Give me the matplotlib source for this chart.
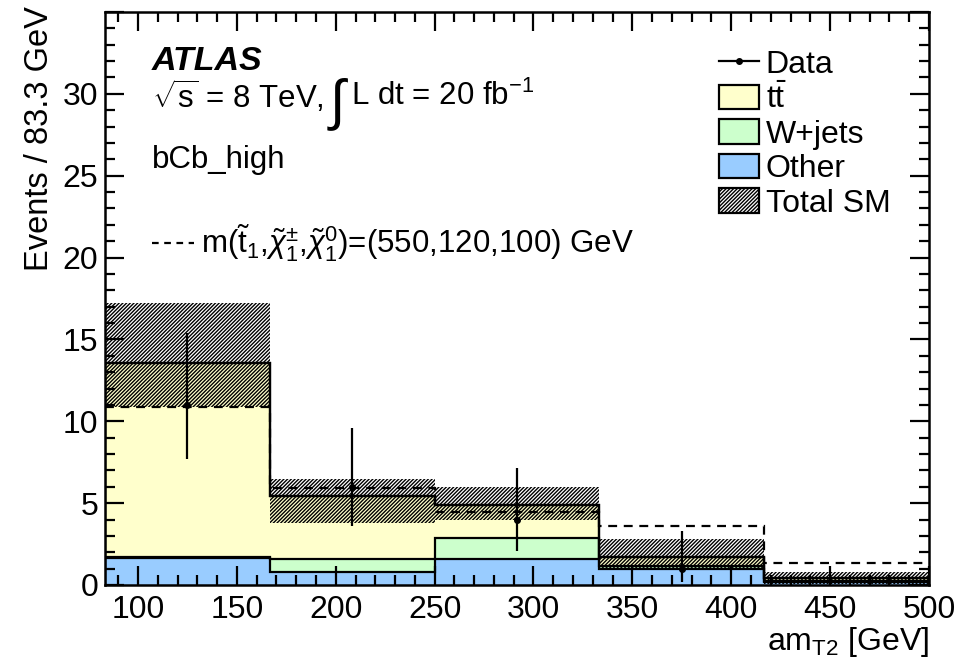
import numpy as np
import matplotlib
matplotlib.use("Agg")
import matplotlib.pyplot as plt
from matplotlib.patches import Patch
from matplotlib.lines import Line2D
from matplotlib.ticker import MultipleLocator, FixedLocator

plt.rcParams['font.family'] = ['Liberation Sans', 'DejaVu Sans']
plt.rcParams['mathtext.fontset'] = 'custom'
plt.rcParams['mathtext.rm'] = 'Liberation Sans'
plt.rcParams['mathtext.it'] = 'Liberation Sans:italic'
plt.rcParams['mathtext.bf'] = 'Liberation Sans:bold'
plt.rcParams['hatch.linewidth'] = 1.0

# ---- data ----
bin_edges = [83.33, 166.67, 250.0, 333.33, 416.67, 500.0]
other = [1.65, 0.80, 1.58, 1.00, 0.20]
wjets = [0.05, 0.80, 1.32, 0.15, 0.05]
ttbar = [11.85, 3.85, 2.00, 0.57, 0.20]
band_low = [10.9, 3.8, 3.96, 1.00, 0.05]
band_high = [17.2, 6.5, 6.0, 2.80, 0.80]
signal = [10.9, 5.9, 4.47, 3.6, 1.33]
data_x = [125.0, 208.33, 291.67, 375.0]
data_y = [11, 6, 4, 1]
data_err_lo = [3.30, 2.38, 1.91, 0.83]
data_err_hi = [4.42, 3.58, 3.16, 2.30]
y_ticks = [0, 5, 10, 15, 20, 25, 30]

col_tt = '#FFFFCC'
col_w = '#CCFFCC'
col_other = '#99CCFF'
HATCH = '/////////'
FS = 22.5

fig = plt.figure(figsize=(9.57, 6.57), dpi=100)
ax = fig.add_axes([105/957, 1-585/657, 824/957, 573/657])

edges = np.array(bin_edges)
o = np.array(other)
w = np.array(wjets)
t = np.array(ttbar)
lev1 = o
lev2 = o + w
lev3 = o + w + t

ax.stairs(lev1, edges, baseline=0, fill=True, facecolor=col_other, linewidth=0)
ax.stairs(lev2, edges, baseline=lev1, fill=True, facecolor=col_w, linewidth=0)
ax.stairs(lev3, edges, baseline=lev2, fill=True, facecolor=col_tt, linewidth=0)
for lev in (lev1, lev2, lev3):
    ax.stairs(lev, edges, baseline=None, color='black', linewidth=1.6)
ax.stairs(lev3, edges, baseline=0, fill=False, color='black', linewidth=1.6)

# uncertainty band
ax.stairs(np.array(band_high), edges, baseline=np.array(band_low), fill=True,
          facecolor='none', edgecolor='black', hatch=HATCH, linewidth=0)

# signal
ax.stairs(np.array(signal), edges, baseline=None, color='black',
          linestyle=(0, (4, 3)), linewidth=1.6)

# data
ax.errorbar(data_x, data_y, yerr=[data_err_lo, data_err_hi], fmt='o', color='black',
            markersize=4, elinewidth=1.6, capsize=0)

ax.set_xlim(83.33, 500)
ax.set_ylim(0, 35)
ax.xaxis.set_major_locator(MultipleLocator(50))
ax.xaxis.set_minor_locator(MultipleLocator(10))
ax.yaxis.set_major_locator(FixedLocator(y_ticks + [35]))
ax.set_yticklabels([str(v) for v in y_ticks] + [''])
ax.yaxis.set_minor_locator(MultipleLocator(1))
ax.tick_params(which='both', direction='in', top=True, right=True, width=1.6, labelsize=23)
ax.tick_params(which='major', length=14)
ax.tick_params(which='minor', length=7)
ax.tick_params(axis='x', pad=7)
ax.tick_params(axis='y', pad=5)
for s in ax.spines.values():
    s.set_linewidth(1.8)

ax.set_ylabel('Events / 83.3 GeV', fontsize=23.5)
ax.yaxis.label.set_va('center')
ax.yaxis.label.set_ha('right')
ax.yaxis.set_label_coords(-0.079, 1.01, transform=ax.transAxes)
ax.set_xlabel(r'am$_{\mathregular{T2}}$ [GeV]', fontsize=23, loc='right', labelpad=0)

ax.text(0.057, 0.913, 'ATLAS', transform=ax.transAxes, fontsize=24.5, fontweight='bold',
        fontstyle='italic', va='center', ha='left')

# sqrt(s) line with a large integral sign
renderer = fig.canvas.get_renderer()
t1 = ax.text(0.057, 0.852, r'$\sqrt{\mathregular{s}}$ = 8 TeV,', transform=ax.transAxes,
             fontsize=FS, va='center', ha='left')
bb1 = t1.get_window_extent(renderer).transformed(ax.transAxes.inverted())
t2 = ax.text(bb1.x1 + 0.004, 0.838, r'$\int$', transform=ax.transAxes,
             fontsize=40, va='center', ha='left')
bb2 = t2.get_window_extent(renderer).transformed(ax.transAxes.inverted())
ax.text(bb2.x1 + 0.002, 0.852, r'L dt = 20 fb$^{\mathregular{-1}}$', transform=ax.transAxes,
        fontsize=FS, va='center', ha='left')

ax.text(0.057, 0.742, 'bCb_high', transform=ax.transAxes, fontsize=FS, va='center', ha='left')
ax.plot([0.057, 0.108], [0.597, 0.597], transform=ax.transAxes, color='black',
        linestyle=(0, (3, 2.5)), linewidth=1.6)
ax.text(0.117, 0.597, r'm($\tilde{\mathregular{t}}_{\mathregular{1}}$,$\tilde{\chi}_{\mathregular{1}}^{\pm}$,$\tilde{\chi}_{\mathregular{1}}^{\mathregular{0}}$)=(550,120,100) GeV',
        transform=ax.transAxes, fontsize=FS, va='center', ha='left')

handles = [
    Line2D([], [], color='black', marker='o', markersize=4, linewidth=1.6),
    Patch(facecolor=col_tt, edgecolor='black', linewidth=1.6),
    Patch(facecolor=col_w, edgecolor='black', linewidth=1.6),
    Patch(facecolor=col_other, edgecolor='black', linewidth=1.6),
    Patch(facecolor='white', edgecolor='black', hatch=HATCH, linewidth=1.6),
]
labels = ['Data', r't$\bar{\mathregular{t}}$', 'W+jets', 'Other', 'Total SM']
leg = ax.legend(handles, labels, loc='upper left', bbox_to_anchor=(0.726, 0.962),
                frameon=False, fontsize=23, handlelength=1.25, handleheight=0.8,
                handletextpad=0.2, labelspacing=0.13, borderpad=0)

fig.savefig('out.png', dpi=100)
